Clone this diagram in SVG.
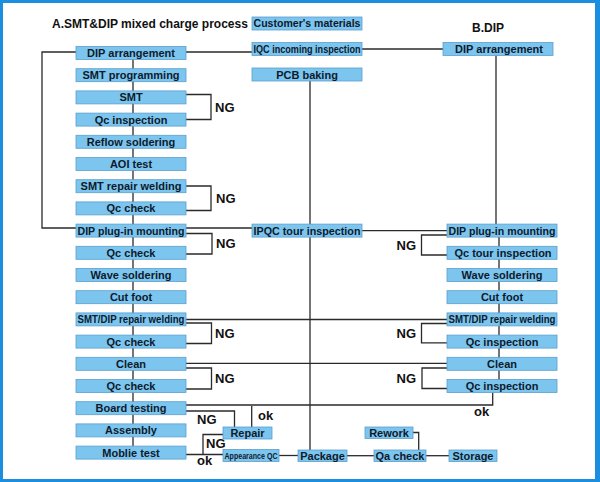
<svg xmlns="http://www.w3.org/2000/svg" width="600" height="482" viewBox="0 0 600 482">
<style>
.b{fill:#7cc5ef;stroke:#5b9fcc;stroke-width:0.8}
.t{font-family:"Liberation Sans",Arial,sans-serif;font-weight:bold;font-size:11px;fill:#0e1a2b;text-anchor:middle}
.s{font-family:"Liberation Sans",Arial,sans-serif;font-weight:bold;font-size:9px;fill:#0e1a2b;text-anchor:middle}
.h{font-family:"Liberation Sans",Arial,sans-serif;font-weight:bold;font-size:12px;fill:#111}
.l{font-family:"Liberation Sans",Arial,sans-serif;font-weight:bold;font-size:13px;fill:#111}
.c{fill:none;stroke:#2a2a2a;stroke-width:1.3}
</style>
<rect x="0" y="0" width="600" height="482" fill="#fff"/>
<g id="frame" fill="#1c8ee0">
<rect x="0" y="0" width="600" height="3"/>
<rect x="0" y="0" width="3" height="482"/>
<rect x="595" y="0" width="5" height="482"/>
<rect x="0" y="479" width="600" height="3"/>
</g>
<text class="h" x="52" y="28">A.SMT&amp;DIP mixed charge process</text>
<text class="h" x="472" y="32">B.DIP</text>
<g id="connectors" class="c">
<path d="M133,53V453"/>
<path d="M186,52H252"/>
<path d="M362,49H443"/>
<path d="M76,52H42V228H76"/>
<path d="M186,94.5H211V119.5H186"/>
<path d="M186,186H211V210.5H186"/>
<path d="M186,228H252"/>
<path d="M186,233.5H212V254H186"/>
<path d="M362,230.6H447"/>
<path d="M496,55.5V224.1"/>
<path d="M499,230V386"/>
<path d="M447,235H421.5V255H447"/>
<path d="M186,319.5H447"/>
<path d="M186,323H211.5V343.5H186"/>
<path d="M447,323.5H421.5V342.8H447"/>
<path d="M186,363.3H447"/>
<path d="M186,368H211.5V389H186"/>
<path d="M447,368H422V388.5H447"/>
<path d="M186,405H492.7V392.5"/>
<path d="M186,411H234.5V427"/>
<path d="M251.7,406V427"/>
<path d="M223,434.5H203V454.5"/>
<path d="M186,454.5H223"/>
<path d="M279,455.5H298"/>
<path d="M310,81V450"/>
<path d="M347,455.7H374"/>
<path d="M426,455.7H449"/>
<path d="M413,432.5H418.7V450"/>
</g>
<g id="labels">
<text class="l" x="215" y="111.6">NG</text>
<text class="l" x="216" y="202.7">NG</text>
<text class="l" x="216" y="248.4">NG</text>
<text class="l" x="416" y="249.6" text-anchor="end">NG</text>
<text class="l" x="215" y="337.9">NG</text>
<text class="l" x="416" y="337.8" text-anchor="end">NG</text>
<text class="l" x="215" y="383.1">NG</text>
<text class="l" x="416" y="382.8" text-anchor="end">NG</text>
<text class="l" x="474" y="416">ok</text>
<text class="l" x="197" y="423.5">NG</text>
<text class="l" x="258" y="420">ok</text>
<text class="l" x="206" y="447.5">NG</text>
<text class="l" x="197" y="464.5">ok</text>
</g>
<g id="n-dip-arr"><rect class="b" x="76" y="46.5" width="110" height="13"/><text class="t" x="131" y="57">DIP arrangement</text></g>
<g id="n-smt-prog"><rect class="b" x="76" y="68.7" width="110" height="13"/><text class="t" x="131" y="79.2">SMT programming</text></g>
<g id="n-smt"><rect class="b" x="76" y="90.9" width="110" height="13"/><text class="t" x="131" y="101.4">SMT</text></g>
<g id="n-qc-insp1"><rect class="b" x="76" y="113.1" width="110" height="13"/><text class="t" x="131" y="123.6">Qc inspection</text></g>
<g id="n-reflow"><rect class="b" x="76" y="135.3" width="110" height="13"/><text class="t" x="131" y="145.8">Reflow soldering</text></g>
<g id="n-aoi"><rect class="b" x="76" y="157.5" width="110" height="13"/><text class="t" x="131" y="168">AOI test</text></g>
<g id="n-smt-repair"><rect class="b" x="76" y="179.7" width="110" height="13"/><text class="t" x="131" y="190.2">SMT repair welding</text></g>
<g id="n-qc-check1"><rect class="b" x="76" y="201.9" width="110" height="13"/><text class="t" x="131" y="212.4">Qc check</text></g>
<g id="n-dip-plug"><rect class="b" x="76" y="224.1" width="110" height="13"/><text class="t" x="131" y="234.6" textLength="107" lengthAdjust="spacingAndGlyphs">DIP plug-in mounting</text></g>
<g id="n-qc-check2"><rect class="b" x="76" y="246.3" width="110" height="13"/><text class="t" x="131" y="256.8">Qc check</text></g>
<g id="n-wave"><rect class="b" x="76" y="268.5" width="110" height="13"/><text class="t" x="131" y="279">Wave soldering</text></g>
<g id="n-cut"><rect class="b" x="76" y="290.7" width="110" height="13"/><text class="t" x="131" y="301.2">Cut foot</text></g>
<g id="n-smtdip-repair"><rect class="b" x="76" y="312.9" width="110" height="13"/><text class="t" x="131" y="323.2" textLength="107" lengthAdjust="spacingAndGlyphs">SMT/DIP repair welding</text></g>
<g id="n-qc-check3"><rect class="b" x="76" y="335.1" width="110" height="13"/><text class="t" x="131" y="345.6">Qc check</text></g>
<g id="n-clean"><rect class="b" x="76" y="357.3" width="110" height="13"/><text class="t" x="131" y="367.8">Clean</text></g>
<g id="n-qc-check4"><rect class="b" x="76" y="379.5" width="110" height="13"/><text class="t" x="131" y="390">Qc check</text></g>
<g id="n-board"><rect class="b" x="76" y="401.7" width="110" height="13"/><text class="t" x="131" y="412.2">Board testing</text></g>
<g id="n-assembly"><rect class="b" x="76" y="423.9" width="110" height="13"/><text class="t" x="131" y="434.4">Assembly</text></g>
<g id="n-moblie"><rect class="b" x="76" y="446.1" width="110" height="13"/><text class="t" x="131" y="456.6">Moblie test</text></g>
<g id="n-customer"><rect class="b" x="252" y="17" width="110" height="13"/><text class="t" x="307" y="27.4" textLength="107" lengthAdjust="spacingAndGlyphs">Customer's materials</text></g>
<g id="n-iqc"><rect class="b" x="252" y="42.5" width="110" height="13"/><text class="t" x="307" y="52.9" font-size="10.5" textLength="107" lengthAdjust="spacingAndGlyphs">IQC incoming inspection</text></g>
<g id="n-pcb"><rect class="b" x="252" y="68" width="110" height="13"/><text class="t" x="307" y="78.5">PCB baking</text></g>
<g id="n-ipqc"><rect class="b" x="252" y="224.1" width="110" height="13"/><text class="t" x="307" y="234.6" textLength="107" lengthAdjust="spacingAndGlyphs">IPQC tour inspection</text></g>
<g id="n-b-dip-arr"><rect class="b" x="443" y="42.5" width="110" height="13"/><text class="t" x="499" y="53">DIP arrangement</text></g>
<g id="n-b-dip-plug"><rect class="b" x="447" y="224.1" width="110" height="13"/><text class="t" x="502" y="234.6" textLength="107" lengthAdjust="spacingAndGlyphs">DIP plug-in mounting</text></g>
<g id="n-b-qc-tour"><rect class="b" x="447" y="246.3" width="110" height="13"/><text class="t" x="503" y="256.8">Qc tour inspection</text></g>
<g id="n-b-wave"><rect class="b" x="447" y="268.5" width="110" height="13"/><text class="t" x="502" y="279">Wave soldering</text></g>
<g id="n-b-cut"><rect class="b" x="447" y="290.7" width="110" height="13"/><text class="t" x="502" y="301.2">Cut foot</text></g>
<g id="n-b-smtdip"><rect class="b" x="447" y="312.9" width="110" height="13"/><text class="t" x="502" y="323.2" textLength="107" lengthAdjust="spacingAndGlyphs">SMT/DIP repair welding</text></g>
<g id="n-b-qc-insp1"><rect class="b" x="447" y="335.1" width="110" height="13"/><text class="t" x="502" y="345.6">Qc inspection</text></g>
<g id="n-b-clean"><rect class="b" x="447" y="357.3" width="110" height="13"/><text class="t" x="502" y="367.8">Clean</text></g>
<g id="n-b-qc-insp2"><rect class="b" x="447" y="379.5" width="110" height="13"/><text class="t" x="502" y="390">Qc inspection</text></g>
<g id="n-repair"><rect class="b" x="223" y="427" width="49" height="12"/><text class="t" x="247.5" y="437">Repair</text></g>
<g id="n-appqc"><rect class="b" x="223" y="449.5" width="56" height="12"/><text class="s" x="251" y="458.8" textLength="53" lengthAdjust="spacingAndGlyphs">Appearance QC</text></g>
<g id="n-package"><rect class="b" x="298" y="450" width="49" height="11.5"/><text class="t" x="322.5" y="459.7">Package</text></g>
<g id="n-qa"><rect class="b" x="374" y="450" width="52" height="11.5"/><text class="t" x="400" y="459.7">Qa check</text></g>
<g id="n-storage"><rect class="b" x="449" y="450" width="48" height="11.5"/><text class="t" x="473" y="459.7">Storage</text></g>
<g id="n-rework"><rect class="b" x="365" y="427" width="48" height="11.5"/><text class="t" x="389" y="436.7">Rework</text></g>
</svg>
